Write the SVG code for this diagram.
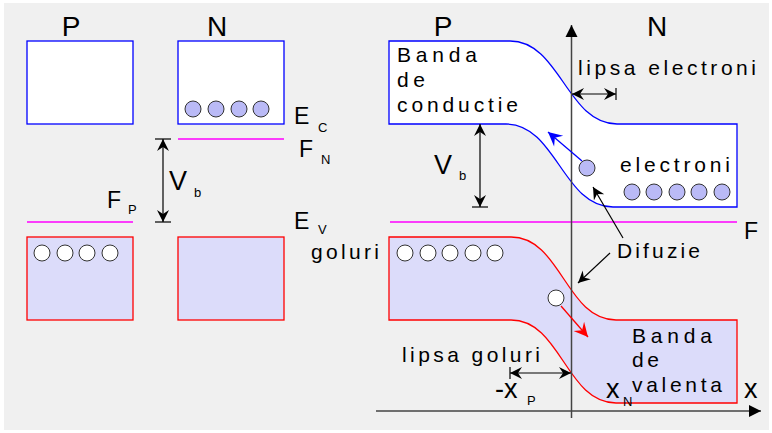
<svg xmlns="http://www.w3.org/2000/svg" width="772" height="433" viewBox="0 0 772 433">
<style>
text{font-family:"Liberation Sans Narrow","Liberation Sans",Arial,sans-serif;fill:#000}
.big{font-size:28px}
.lbl{font-size:21px}
.sym{font-size:23px}
.vv{font-size:27px}
.sub{font-size:13px}
.xl{font-size:27px}
.cb{fill:#fff;stroke:#0000ff;stroke-width:1.3}
.vb{fill:#dcdcfa;stroke:#ff0000;stroke-width:1.3}
.fermi{stroke:#ff00ff;stroke-width:1.3;fill:none}
.el{fill:#babaf6;stroke:#333;stroke-width:1}
.hole{fill:#fff;stroke:#333;stroke-width:1}
.ln{stroke:#000;stroke-width:1.2;fill:none}
.axis{stroke:#444;stroke-width:1.5;fill:none}
</style>
<defs>
<marker id="ah" viewBox="-13 -7 14 14" refX="0" refY="0" markerWidth="14" markerHeight="14" markerUnits="userSpaceOnUse" orient="auto-start-reverse">
<path d="M0,0 L-12,-6 L-8,0 L-12,6 Z" fill="#000"/>
</marker>
<marker id="ahb" viewBox="-15 -8 16 16" refX="0" refY="0" markerWidth="16" markerHeight="16" markerUnits="userSpaceOnUse" orient="auto">
<path d="M0,0 L-14,-7 L-9,0 L-14,7 Z" fill="#0000ff"/>
</marker>
<marker id="ahr" viewBox="-15 -8 16 16" refX="0" refY="0" markerWidth="16" markerHeight="16" markerUnits="userSpaceOnUse" orient="auto">
<path d="M0,0 L-14,-7 L-9,0 L-14,7 Z" fill="#ff0000"/>
</marker>
<marker id="ax" viewBox="-13 -7 14 14" refX="0" refY="0" markerWidth="14" markerHeight="14" markerUnits="userSpaceOnUse" orient="auto">
<path d="M0,0 L-12,-6 L-12,6 Z" fill="#000"/>
</marker>
</defs>
<rect x="0" y="0" width="772" height="433" fill="#fff"/>
<rect x="4" y="3" width="765" height="427" fill="#f0f0f0"/>

<!-- LEFT PANEL -->
<g id="left-labels">
<text class="big" x="71" y="36" text-anchor="middle">P</text>
<text class="big" x="217" y="36" text-anchor="middle">N</text>
</g>
<g id="p-conduction"><rect class="cb" x="27" y="41" width="106" height="83"/></g>
<g id="n-conduction">
<rect class="cb" x="178" y="41" width="106" height="83"/>
<circle class="el" cx="193" cy="109" r="8"/>
<circle class="el" cx="216" cy="109" r="8"/>
<circle class="el" cx="239" cy="109" r="8"/>
<circle class="el" cx="261" cy="109" r="8"/>
</g>
<g id="p-valence">
<rect class="vb" x="27" y="237" width="106" height="83"/>
<circle class="hole" cx="42" cy="253" r="8"/>
<circle class="hole" cx="65" cy="253" r="8"/>
<circle class="hole" cx="87" cy="253" r="8"/>
<circle class="hole" cx="110" cy="253" r="8"/>
</g>
<g id="n-valence"><rect class="vb" x="178" y="237" width="106" height="83"/></g>
<g id="left-levels">
<line class="fermi" x1="178" y1="139" x2="284" y2="139"/>
<line class="fermi" x1="27" y1="222" x2="133" y2="222"/>
<text class="sym" x="294" y="124">E</text><text class="sub" x="318" y="132">C</text>
<text class="sym" x="299" y="157">F</text><text class="sub" x="321" y="164">N</text>
<text class="vv" x="169" y="190">V</text><text class="sub" x="194" y="197">b</text>
<text class="sym" x="107" y="208">F</text><text class="sub" x="128" y="214">P</text>
<text class="sym" x="294" y="229">E</text><text class="sub" x="318" y="234">V</text>
<text class="lbl" x="311" y="259" textLength="68" lengthAdjust="spacing">goluri</text>
</g>

<!-- RIGHT PANEL -->
<g id="right-labels">
<text class="big" x="443" y="36" text-anchor="middle">P</text>
<text class="big" x="657" y="36" text-anchor="middle">N</text>
</g>
<g id="conduction-band">
<path class="cb" d="M389,41 H510 C560,41 567,124 617,124 H737 V207 H613 C563,207 556,124 506,124 H389 Z"/>
<text class="lbl" x="397" y="62" textLength="80" lengthAdjust="spacing">Banda</text>
<text class="lbl" x="397" y="87" textLength="28" lengthAdjust="spacing">de</text>
<text class="lbl" x="397" y="112" textLength="121" lengthAdjust="spacing">conductie</text>
</g>
<g id="valence-band">
<path class="vb" d="M389,237 H511 C561,237 566,320 616,320 H737 V403 H616 C566,403 561,320 511,320 H389 Z"/>
<text class="lbl" x="632" y="343" textLength="80" lengthAdjust="spacing">Banda</text>
<text class="lbl" x="632" y="367" textLength="27" lengthAdjust="spacing">de</text>
<text class="lbl" x="632" y="392" textLength="90" lengthAdjust="spacing">valenta</text>
</g>
<g id="fermi-level">
<line class="fermi" x1="390" y1="222" x2="737" y2="222"/>
<text class="sym" x="744" y="239">F</text>
</g>
<g id="electrons">
<circle class="el" cx="587" cy="168" r="8"/>
<circle class="el" cx="632" cy="192" r="8"/>
<circle class="el" cx="654" cy="192" r="8"/>
<circle class="el" cx="677" cy="192" r="8"/>
<circle class="el" cx="699" cy="192" r="8"/>
<circle class="el" cx="722" cy="192" r="8"/>
<text class="lbl" x="620" y="172" textLength="110" lengthAdjust="spacing">electroni</text>
</g>
<g id="holes">
<circle class="hole" cx="405" cy="253" r="8"/>
<circle class="hole" cx="428" cy="253" r="8"/>
<circle class="hole" cx="450" cy="253" r="8"/>
<circle class="hole" cx="473" cy="253" r="8"/>
<circle class="hole" cx="495" cy="253" r="8"/>
<circle class="hole" cx="556" cy="298" r="8"/>
</g>
<g id="right-texts">
<text class="lbl" x="578" y="75" textLength="178" lengthAdjust="spacing">lipsa electroni</text>
<text class="vv" x="434" y="174">V</text><text class="sub" x="459" y="180">b</text>
<text class="lbl" x="617" y="258" textLength="83" lengthAdjust="spacing">Difuzie</text>
<text class="lbl" x="402" y="362" textLength="138" lengthAdjust="spacing">lipsa goluri</text>
<text class="xl" x="495" y="398">-x</text><text class="sub" x="527" y="405">P</text>
<text class="xl" x="606" y="398">x</text><text class="sub" x="623" y="406">N</text>
<text class="xl" x="744" y="398">x</text>
</g>

<!-- CONNECTORS -->
<g id="connectors">
<line class="axis" x1="571.5" y1="418" x2="571.5" y2="25" marker-end="url(#ax)"/>
<line class="axis" x1="376" y1="411" x2="761" y2="411" marker-end="url(#ax)"/>
<line class="ln" x1="163" y1="139" x2="163" y2="222" marker-start="url(#ah)" marker-end="url(#ah)"/>
<line class="ln" x1="155" y1="139" x2="171" y2="139"/>
<line class="ln" x1="155" y1="222" x2="171" y2="222"/>
<line class="ln" x1="480" y1="124" x2="480" y2="207" marker-start="url(#ah)" marker-end="url(#ah)"/>
<line class="ln" x1="472" y1="207" x2="488" y2="207"/>
<line class="ln" x1="572" y1="94" x2="616" y2="94" marker-start="url(#ah)" marker-end="url(#ah)"/>
<line class="ln" x1="616" y1="88" x2="616" y2="100"/>
<line class="ln" x1="510" y1="373" x2="571" y2="373" marker-start="url(#ah)" marker-end="url(#ah)"/>
<line class="ln" x1="510" y1="367" x2="510" y2="379"/>
<line class="ln" x1="623" y1="238" x2="593" y2="187" marker-end="url(#ah)"/>
<line class="ln" x1="610" y1="253" x2="578" y2="283" marker-end="url(#ah)"/>
<line x1="582" y1="161" x2="548" y2="132" stroke="#0000ff" stroke-width="1.3" marker-end="url(#ahb)"/>
<line x1="561" y1="306" x2="588" y2="337" stroke="#ff0000" stroke-width="1.3" marker-end="url(#ahr)"/>
</g>
</svg>
